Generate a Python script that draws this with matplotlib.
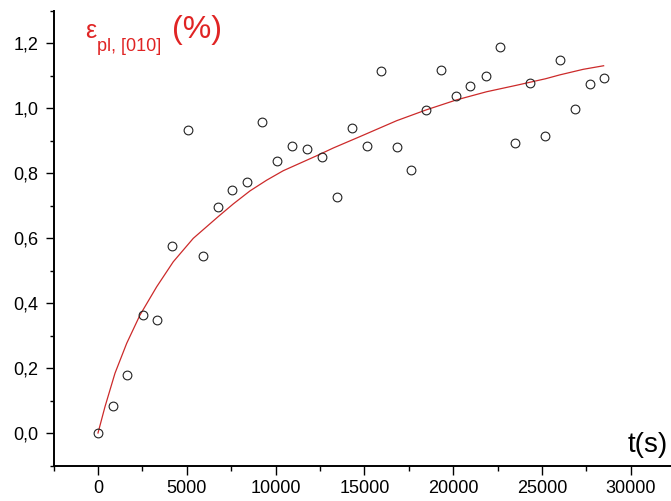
import matplotlib
matplotlib.use("Agg")
import matplotlib.pyplot as plt
from matplotlib.ticker import MultipleLocator, FuncFormatter

plt.rcParams['font.family'] = ['Liberation Sans', 'DejaVu Sans']

# measured points
time_s = [0, 845, 1630, 2530, 3320, 4170, 5070, 5910, 6760, 7540, 8390, 9230,
          10080, 10920, 11770, 12610, 13440, 14280, 15130, 15950, 16820, 17640,
          18470, 19330, 20140, 20960, 21840, 22650, 23490, 24340, 25170, 26010,
          26860, 27680, 28500]
strain = [0.0, 0.083, 0.178, 0.363, 0.348, 0.575, 0.932, 0.545, 0.695, 0.748,
          0.772, 0.957, 0.837, 0.883, 0.874, 0.850, 0.727, 0.938, 0.883, 1.113,
          0.879, 0.808, 0.994, 1.117, 1.036, 1.067, 1.099, 1.189, 0.891, 1.077,
          0.914, 1.148, 0.996, 1.075, 1.093]

# fit curve
fit_t = [0, 394, 957, 1616, 2365, 3305, 4240, 5365, 6773, 7620, 8560, 9500,
         10430, 11370, 12310, 13250, 14750, 16820, 18470, 20190, 21880, 23570,
         25200, 26010, 27320, 28470]
fit_y = [0.0, 0.081, 0.184, 0.276, 0.363, 0.450, 0.527, 0.599, 0.666, 0.705,
         0.745, 0.778, 0.807, 0.830, 0.853, 0.877, 0.912, 0.961, 0.994, 1.025,
         1.050, 1.070, 1.090, 1.102, 1.119, 1.130]

W, H = 671, 501
fig = plt.figure(figsize=(W / 100, H / 100), dpi=100)
ax = fig.add_axes([53.6 / W, (H - 465.5) / H, 1 - 53.6 / W, 455.0 / H])

ax.plot(fit_t, fit_y, color='#cc2a2a', linewidth=0.9, zorder=2)
ax.plot(time_s, strain, linestyle='none', marker='o', markersize=6.3,
        markerfacecolor='none', markeredgecolor='#222222', markeredgewidth=0.8, zorder=3)

ax.set_xlim(-2500, 32264)
ax.set_ylim(-0.1, 1.3)

for side in ['top', 'right']:
    ax.spines[side].set_visible(False)
for side in ['left', 'bottom']:
    ax.spines[side].set_linewidth(1.4)

ax.xaxis.set_major_locator(MultipleLocator(5000))
ax.xaxis.set_minor_locator(MultipleLocator(2500))
ax.yaxis.set_major_locator(MultipleLocator(0.2))
ax.yaxis.set_minor_locator(MultipleLocator(0.1))
ax.yaxis.set_major_formatter(FuncFormatter(lambda v, p: ('%.1f' % v).replace('.', ',')))

def xfmt(v, p):
    if v < 0:
        return ''
    return '%d' % v
ax.xaxis.set_major_formatter(FuncFormatter(xfmt))

ax.tick_params(axis='both', which='both', direction='out', width=1.0, labelsize=13, colors='black')
ax.tick_params(axis='x', which='major', length=6.5, pad=4)
ax.tick_params(axis='x', which='minor', length=3.6)
ax.tick_params(axis='y', which='major', length=5.8, pad=5)
ax.tick_params(axis='y', which='minor', length=3.0)

# axis labels written as free text
red = '#e02424'
fig.text(85 / W, (H - 38) / H, '\u03b5', color=red, fontsize=18, va='baseline')
fig.text(97 / W, (H - 51) / H, 'pl, [010]', color=red, fontsize=13, va='baseline')
fig.text(172 / W, (H - 38) / H, '(%)', color=red, fontsize=23, va='baseline')
fig.text(628 / W, (H - 452) / H, 't(s)', color='black', fontsize=20, va='baseline')

plt.savefig('out.png', dpi=100)
